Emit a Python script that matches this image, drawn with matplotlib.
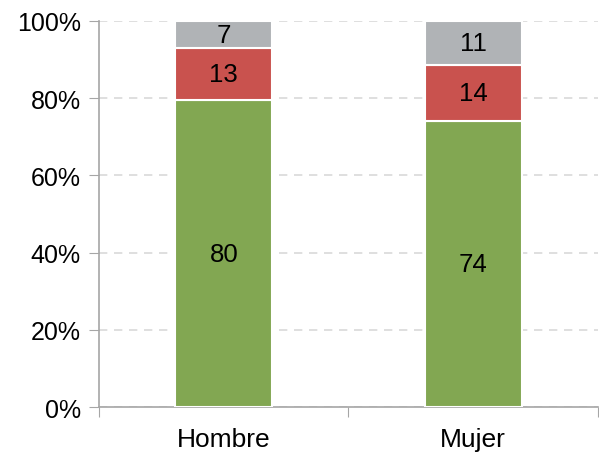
import matplotlib
matplotlib.use('Agg')
import matplotlib.pyplot as plt
from matplotlib.ticker import PercentFormatter

plt.rcParams['font.family'] = ['Liberation Sans', 'DejaVu Sans']

# data: share of each answer by group
categories = ['Hombre', 'Mujer']
green_vals = [79.5, 74.2]
red_vals = [13.4, 14.4]
grey_vals = [7.1, 11.4]

series = [
    (green_vals, '#82A752'),
    (red_vals, '#C9524E'),
    (grey_vals, '#B0B3B6'),
]

fig = plt.figure(figsize=(5.99, 4.56), dpi=100)
ax = fig.add_axes([0.1653, 0.105, 0.8330, 0.847])

x = list(range(len(categories)))
bottoms = [0.0] * len(categories)
for vals, color in series:
    bars = ax.bar(x, vals, width=0.39, bottom=bottoms, color=color,
                  edgecolor='white', linewidth=1.5, zorder=3)
    for b, v, bot in zip(bars, vals, bottoms):
        ax.text(b.get_x() + b.get_width() / 2, bot + v / 2, '%.0f' % v,
                ha='center', va='center', fontsize=18.5, color='black', zorder=4)
    bottoms = [bt + v for bt, v in zip(bottoms, vals)]

ax.set_xlim(-0.5, 1.5)
ax.set_ylim(0, 100)
ax.set_yticks([0, 20, 40, 60, 80, 100])
ax.yaxis.set_major_formatter(PercentFormatter(decimals=0))
ax.set_xticks([-0.5, 0.5, 1.5])
ax.set_xticklabels([])
ax.set_xticks(x, minor=True)
ax.set_xticklabels(categories, minor=True, fontsize=19)
ax.tick_params(axis='x', which='minor', length=0, pad=14)
ax.tick_params(axis='x', which='major', length=7, color='#A6A6A6', direction='out')
ax.tick_params(axis='y', length=7, color='#A6A6A6', labelsize=18, pad=6)

ax.yaxis.grid(True, color='#D9D9D9', linestyle=(0, (5, 4)), linewidth=1.2, zorder=0)
for side in ['top', 'right']:
    ax.spines[side].set_visible(False)
for side in ['left', 'bottom']:
    ax.spines[side].set_color('#A6A6A6')
    ax.spines[side].set_linewidth(1.2)

fig.savefig('out.png', dpi=100)
